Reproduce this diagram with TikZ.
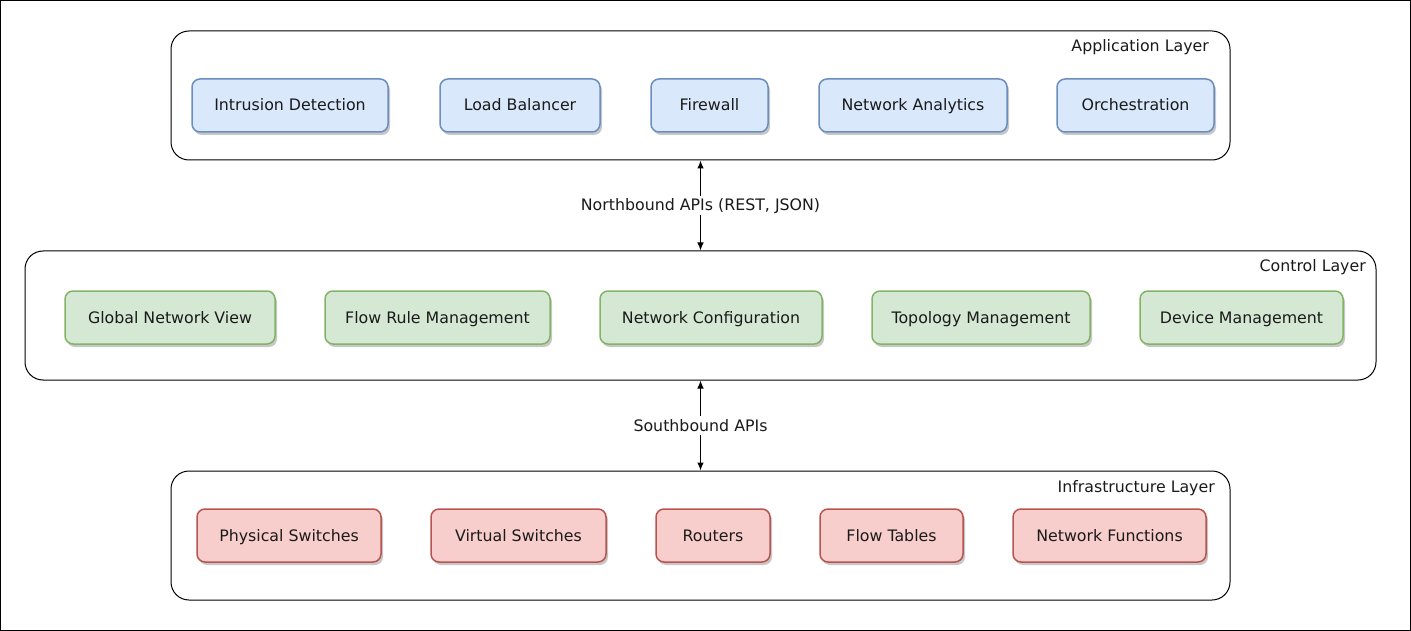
\documentclass[tikz,border=0pt]{standalone}
\usepackage{fontspec}
\setmainfont{DejaVu Sans}
\usetikzlibrary{arrows.meta,shadows}
\definecolor{bfill}{HTML}{DAE8FC}\definecolor{bdraw}{HTML}{6C8EBF}
\definecolor{gfill}{HTML}{D5E8D4}\definecolor{gdraw}{HTML}{82B366}
\definecolor{rfill}{HTML}{F8CECC}\definecolor{rdraw}{HTML}{B85450}
\definecolor{txt}{HTML}{1A1A1A}
\begin{document}
\begin{tikzpicture}[x=1pt,y=-1pt,
  every node/.style={font=\fontsize{15.8}{18}\selectfont, text=txt, text height=11pt, text depth=0pt},
  layerbox/.style={draw=black, line width=1pt, rounded corners=18pt, minimum height=129pt, inner sep=0pt},
  item/.style={rounded corners=8pt, line width=1.5pt, minimum height=53pt, inner sep=0pt,
    drop shadow={shadow xshift=2pt, shadow yshift=-3pt, opacity=0.22, fill=black}},
  bitem/.style={item, draw=bdraw, fill=bfill},
  gitem/.style={item, draw=gdraw, fill=gfill},
  ritem/.style={item, draw=rdraw, fill=rfill},
  lbl/.style={anchor=east, inner sep=0pt},
  api/.style={{Latex[length=8pt,width=6.5pt]}-{Latex[length=8pt,width=6.5pt]}, line width=1pt},
  apilbl/.style={fill=white, inner sep=4pt}]
\useasboundingbox (0,0) rectangle (1411,631);
\draw[line width=1pt] (0.5,0.5) rectangle (1410.5,630.5);

\node[layerbox, minimum width=1059pt] (app) at (700.5,95.5) {};
\node[layerbox, minimum width=1351pt] (ctrl) at (700.5,315.5) {};
\node[layerbox, minimum width=1059pt] (infra) at (700.5,535.5) {};

\node[lbl] (applbl) at (1209,46.5) {Application Layer};
\node[lbl] (ctrllbl) at (1366,266.5) {Control Layer};
\node[lbl] (infralbl) at (1215,486.5) {Infrastructure Layer};

\node[bitem, minimum width=196pt] (id) at (290,105.5) {Intrusion Detection};
\node[bitem, minimum width=160pt] (lb) at (520,105.5) {Load Balancer};
\node[bitem, minimum width=117pt] (fw) at (709.5,105.5) {Firewall};
\node[bitem, minimum width=188pt] (na) at (913,105.5) {Network Analytics};
\node[bitem, minimum width=157pt] (or) at (1135.5,105.5) {Orchestration};

\node[gitem, minimum width=210pt] (gnv) at (170,317.5) {Global Network View};
\node[gitem, minimum width=225pt] (frm) at (437.5,317.5) {Flow Rule Management};
\node[gitem, minimum width=222pt] (nc) at (711,317.5) {Network Configuration};
\node[gitem, minimum width=218pt] (tm) at (981,317.5) {Topology Management};
\node[gitem, minimum width=203pt] (dm) at (1241.5,317.5) {Device Management};

\node[ritem, minimum width=184pt] (ps) at (289,535.5) {Physical Switches};
\node[ritem, minimum width=175pt] (vs) at (518.5,535.5) {Virtual Switches};
\node[ritem, minimum width=114pt] (rt) at (713,535.5) {Routers};
\node[ritem, minimum width=143pt] (ft) at (891.5,535.5) {Flow Tables};
\node[ritem, minimum width=193pt] (nf) at (1109.5,535.5) {Network Functions};

\draw[api] (app.south) -- node[apilbl] (nb) {Northbound APIs (REST, JSON)} (ctrl.north);
\draw[api] (ctrl.south) -- node[apilbl] (sb) {Southbound APIs} (infra.north);
\end{tikzpicture}
\end{document}
